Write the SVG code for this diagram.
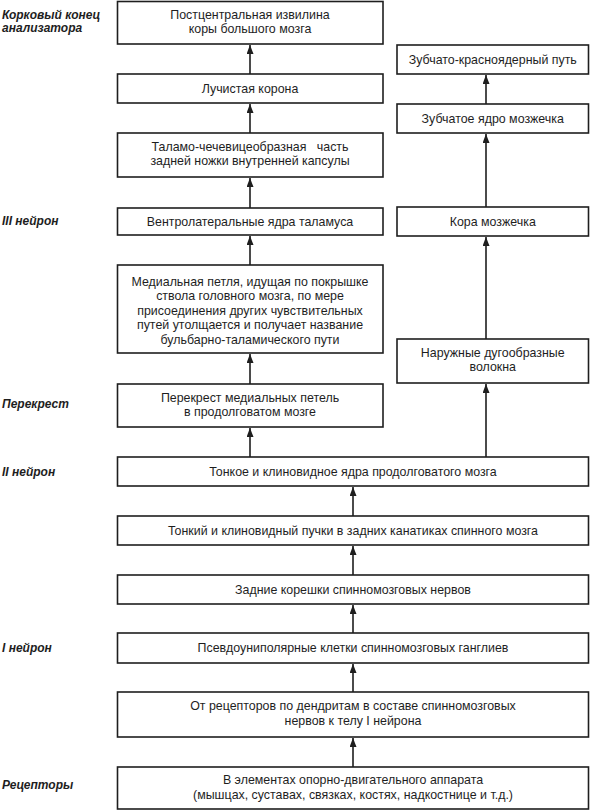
<svg xmlns="http://www.w3.org/2000/svg" width="590" height="811" viewBox="0 0 590 811">
<style>
.box{fill:#fff;stroke:#1e1e1e;stroke-width:1.6}
.t{font-family:"Liberation Sans",Arial,sans-serif;font-size:12.4px;fill:#1e1e1e;text-anchor:middle;white-space:pre}
.lab{font-family:"Liberation Sans",Arial,sans-serif;font-size:12px;font-weight:bold;font-style:italic;fill:#1e1e1e}
.c{stroke:#1e1e1e;stroke-width:1.6;fill:none;marker-end:url(#ah)}
</style>
<defs>
<marker id="ah" viewBox="0 0 9 7" refX="9" refY="3.5" markerWidth="9" markerHeight="7" orient="auto" markerUnits="userSpaceOnUse">
<path d="M0 0 L9 3.5 L0 7 Z" fill="#1e1e1e"/>
</marker>
</defs>
<rect width="590" height="811" fill="#fff"/>
<g id="labels">
<text class="lab" x="2" y="18.5">Корковый конец</text>
<text class="lab" x="2" y="32">анализатора</text>
<text class="lab" x="2" y="225">III нейрон</text>
<text class="lab" x="2" y="408">Перекрест</text>
<text class="lab" x="2" y="476">II нейрон</text>
<text class="lab" x="2" y="652">I нейрон</text>
<text class="lab" x="2" y="789">Рецепторы</text>
</g>
<g id="connectors">
<path class="c" d="M250 74 V45"/>
<path class="c" d="M250 133 V104"/>
<path class="c" d="M250 208 V178"/>
<path class="c" d="M250 265 V236"/>
<path class="c" d="M250 384 V354"/>
<path class="c" d="M250 457 V428"/>
<path class="c" d="M353 516 V487"/>
<path class="c" d="M353 575 V546"/>
<path class="c" d="M353 633 V605"/>
<path class="c" d="M353 692 V664"/>
<path class="c" d="M353 767 V738"/>
<path class="c" d="M486 457 V384"/>
<path class="c" d="M486 339 V237"/>
<path class="c" d="M486 207 V134"/>
<path class="c" d="M486 104 V75"/>
</g>
<g id="n1"><rect class="box" x="117.5" y="1.5" width="265.5" height="42.5"/>
<text class="t" x="250" y="19">Постцентральная извилина</text>
<text class="t" x="250" y="33">коры большого мозга</text></g>
<g id="n2"><rect class="box" x="117.5" y="74" width="265.5" height="29"/>
<text class="t" x="250" y="92.5">Лучистая корона</text></g>
<g id="n3"><rect class="box" x="117.5" y="133" width="265.5" height="44"/>
<text class="t" x="250" y="150.5">Таламо-чечевицеобразная   часть</text>
<text class="t" x="250" y="165">задней ножки внутренней капсулы</text></g>
<g id="n4"><rect class="box" x="117.5" y="208" width="265.5" height="27"/>
<text class="t" x="250" y="225.5">Вентролатеральные ядра таламуса</text></g>
<g id="n5"><rect class="box" x="117.5" y="265" width="265.5" height="88"/>
<text class="t" x="250" y="285.5">Медиальная петля, идущая по покрышке</text>
<text class="t" x="250" y="300">ствола головного мозга, по мере</text>
<text class="t" x="250" y="314.5">присоединения других чувствительных</text>
<text class="t" x="250" y="329">путей утолщается и получает название</text>
<text class="t" x="250" y="343.5">бульбарно-таламического пути</text></g>
<g id="n6"><rect class="box" x="117.5" y="384" width="265.5" height="43"/>
<text class="t" x="250" y="401.5">Перекрест медиальных петель</text>
<text class="t" x="250" y="415.5">в продолговатом мозге</text></g>
<g id="n7"><rect class="box" x="117.5" y="457" width="471" height="29"/>
<text class="t" x="353" y="475.5">Тонкое и клиновидное ядра продолговатого мозга</text></g>
<g id="n8"><rect class="box" x="117.5" y="516" width="471" height="29"/>
<text class="t" x="353" y="534.5">Тонкий и клиновидный пучки в задних канатиках спинного мозга</text></g>
<g id="n9"><rect class="box" x="117.5" y="575" width="471" height="29"/>
<text class="t" x="353" y="593.5">Задние корешки спинномозговых нервов</text></g>
<g id="n10"><rect class="box" x="117.5" y="633" width="471" height="30"/>
<text class="t" x="353" y="652">Псевдоуниполярные клетки спинномозговых ганглиев</text></g>
<g id="n11"><rect class="box" x="117.5" y="692" width="471" height="45"/>
<text class="t" x="353" y="710">От рецепторов по дендритам в составе спинномозговых</text>
<text class="t" x="353" y="724.5">нервов к телу I нейрона</text></g>
<g id="n12"><rect class="box" x="117.5" y="767" width="471" height="42"/>
<text class="t" x="353" y="784">В элементах опорно-двигательного аппарата</text>
<text class="t" x="353" y="798.5">(мышцах, суставах, связках, костях, надкостнице и т.д.)</text></g>
<g id="r1"><rect class="box" x="397" y="45" width="191.5" height="29"/>
<text class="t" x="492.75" y="63.5">Зубчато-красноядерный путь</text></g>
<g id="r2"><rect class="box" x="397" y="104" width="191.5" height="29"/>
<text class="t" x="492.75" y="122.5">Зубчатое ядро мозжечка</text></g>
<g id="r3"><rect class="box" x="397" y="207" width="191.5" height="29"/>
<text class="t" x="492.75" y="225.5">Кора мозжечка</text></g>
<g id="r4"><rect class="box" x="397" y="339" width="191.5" height="44"/>
<text class="t" x="492.75" y="357">Наружные дугообразные</text>
<text class="t" x="492.75" y="371">волокна</text></g>
</svg>
